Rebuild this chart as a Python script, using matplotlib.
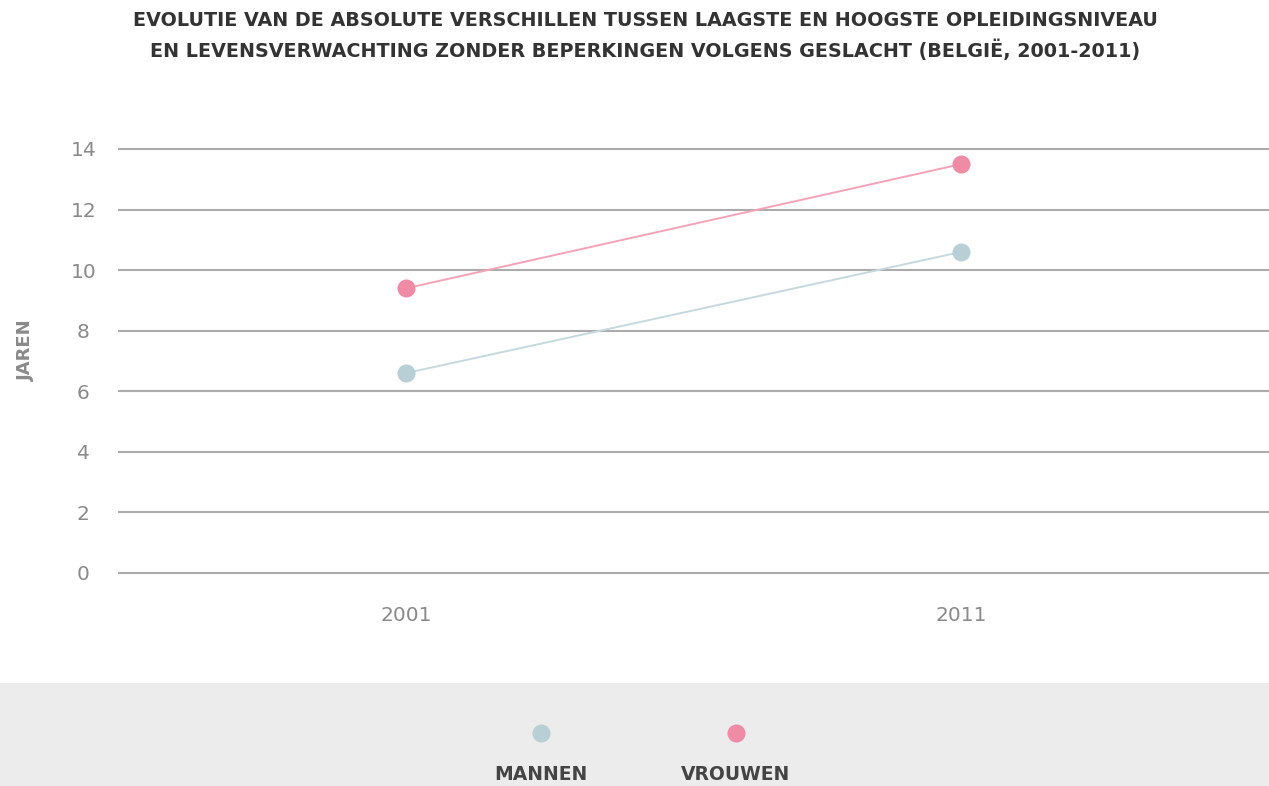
import matplotlib
matplotlib.use('Agg')
from matplotlib import pyplot as plt

years = ['2001', '2011']
mannen = [6.6, 10.6]
vrouwen = [9.4, 13.5]
series_names = ['MANNEN', 'VROUWEN']
yticks = [0, 2, 4, 6, 8, 10, 12, 14]

title_lines = ['EVOLUTIE VAN DE ABSOLUTE VERSCHILLEN TUSSEN LAAGSTE EN HOOGSTE OPLEIDINGSNIVEAU',
               'EN LEVENSVERWACHTING ZONDER BEPERKINGEN VOLGENS GESLACHT (BELGIË, 2001-2011)']

man_dot, man_line = '#b9cfd6', '#c6d9de'
vrw_dot, vrw_line = '#f08ba6', '#f4a3b7'
grid_col = '#ababab'
tick_col = '#8a8a8a'
plt.rcParams['font.family'] = ['DejaVu Sans']

W, H = 1269, 786
fig = plt.figure(figsize=(W / 100, H / 100), dpi=100)
fig.set_facecolor('white')

ax = fig.add_axes([118 / W, 1 - 573 / H, 1 - 118 / W, (573 - 149) / H])
x = range(len(years))
ax.plot(x, vrouwen, color=vrw_line, lw=1.4, zorder=3)
ax.plot(x, mannen, color=man_line, lw=1.4, zorder=3)
ax.plot(x, vrouwen, 'o', color=vrw_dot, ms=13, mew=0, zorder=4)
ax.plot(x, mannen, 'o', color=man_dot, ms=13, mew=0, zorder=4)

ax.set_ylim(0, 14)
ax.set_xlim(-0.519, 1.555)
ax.set_yticks(yticks)
ax.set_xticks(list(x))
ax.set_xticklabels(years)
ax.yaxis.grid(True, color=grid_col, lw=1.5)
for gl in ax.get_ygridlines():
    gl.set_clip_on(False)
    gl.set_solid_capstyle('butt')
ax.set_axisbelow(True)
for s in ax.spines.values():
    s.set_visible(False)
ax.tick_params(axis='both', length=0, colors=tick_col, labelsize=14.5)
ax.tick_params(axis='y', pad=25)
ax.tick_params(axis='x', pad=24)
for lbl in ax.get_yticklabels():
    lbl.set_horizontalalignment('center')
ax.set_ylabel('JAREN', color=tick_col, fontsize=13, fontweight='bold')
ax.yaxis.set_label_coords(-0.072, 0.526)
ax.set_facecolor('none')

for i, line in enumerate(title_lines):
    fig.text(645 / W, 1 - (20 + 30 * i) / H, line, ha='center', va='center',
             fontsize=13.8, fontweight='bold', color='#333333')

# legend band
lg = fig.add_axes([0, 0, 1, 103 / H])
lg.set_xlim(0, W)
lg.set_ylim(0, 103)
lg.axis('off')
lg.add_patch(plt.Rectangle((0, 0), W, 103, color='#ececec', zorder=0))
for name, col, px in zip(series_names, [man_dot, vrw_dot], [541, 736]):
    lg.plot([px], [53], 'o', color=col, ms=13, mew=0)
    lg.text(px, 11, name, ha='center', va='center', fontsize=13.5,
            fontweight='bold', color='#444444')

plt.savefig('out.png', dpi=100)
